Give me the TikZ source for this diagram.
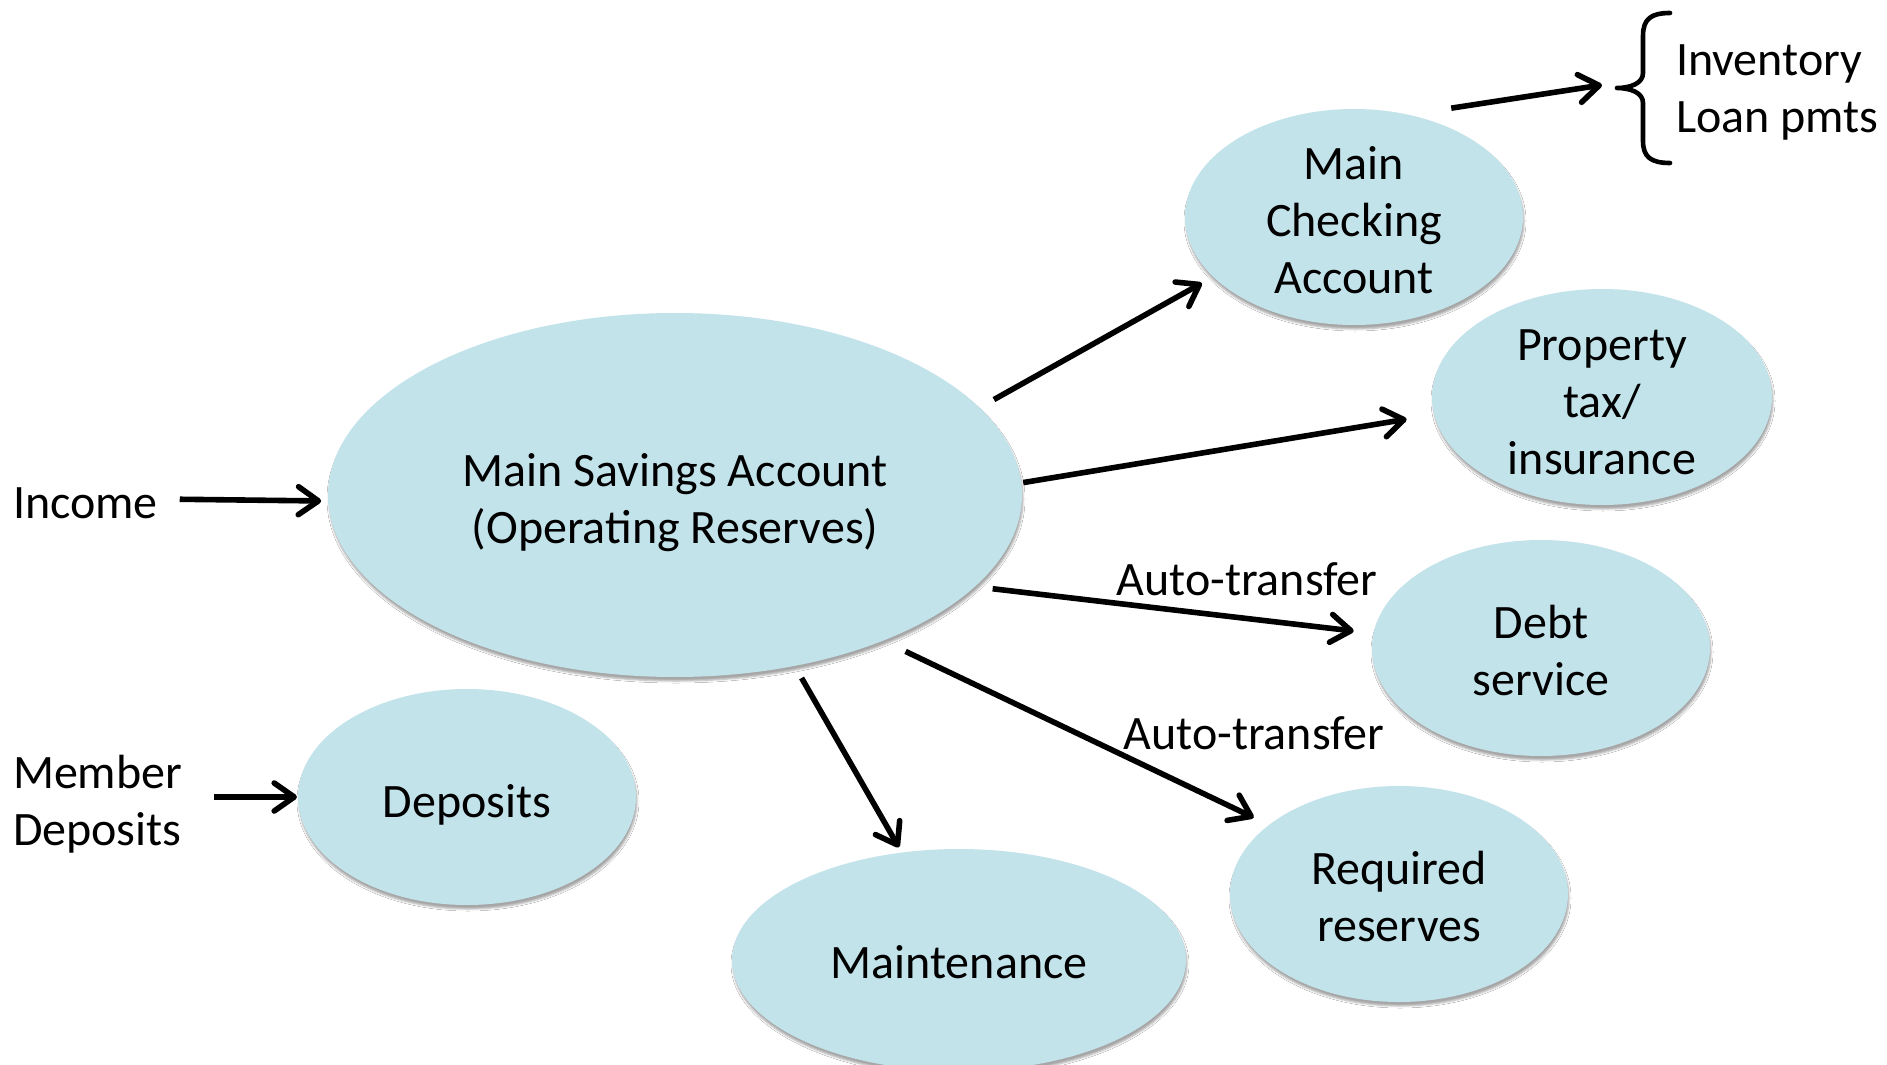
\documentclass[tikz,border=0pt]{standalone}
\usepackage{fontspec}
\setmainfont{Carlito}
\usetikzlibrary{shapes.geometric,arrows.meta,shadows.blur}

\definecolor{acctblue}{RGB}{195,227,235}

\tikzset{
  acct/.style={ellipse, fill=acctblue, draw=none, inner sep=0pt, outer sep=0pt,
    blur shadow={shadow xshift=0.5pt, shadow yshift=-2pt, shadow blur radius=1pt, shadow opacity=35}},
  txt/.style={inner sep=0pt, outer sep=0pt, align=center, font=\fontsize{24}{28.5}\selectfont},
  flow/.style={line width=2.8pt, -{Straight Barb[length=10pt,width=14pt,round]}},
  bracket/.style={line width=2.3pt, line cap=round, line join=round}
}

\begin{document}
\begin{tikzpicture}[x=0.5pt, y=-0.5pt]
  % canvas
  \fill[white] (0,0) rectangle (1887,1065);
  \useasboundingbox (0,0) rectangle (1887,1065);

  % account ellipses
  \node[acct, minimum width=347pt, minimum height=182pt] (main)  at (675,495) {};
  \node[acct, minimum width=169pt, minimum height=108pt] (chk)   at (1354,217) {};
  \node[acct, minimum width=170pt, minimum height=108pt] (prop)  at (1602,397) {};
  \node[acct, minimum width=169pt, minimum height=108pt] (debt)  at (1541,648) {};
  \node[acct, minimum width=169pt, minimum height=108pt] (req)   at (1399,894) {};
  \node[acct, minimum width=227pt, minimum height=111pt] (maint) at (959,960) {};
  \node[acct, minimum width=169pt, minimum height=108pt] (dep)   at (467,797) {};

  % ellipse captions
  \node[txt] (mainT)  at (675,503)  {Main Savings Account\\(Operating Reserves)};
  \node[txt] (chkT)   at (1354,220) {Main\\Checking\\Account};
  \node[txt] (propT)  at (1602,402) {Property\\tax/\\insurance};
  \node[txt] (debtT)  at (1541,651) {Debt\\service};
  \node[txt] (reqT)   at (1399,897) {Required\\reserves};
  \node[txt] (maintT) at (959,962)  {Maintenance};
  \node[txt] (depT)   at (467,805)  {Deposits};

  % free-standing texts
  \node[txt, anchor=west] (income) at (13,503) {Income};
  \node[txt, anchor=west, align=left] (member) at (13,804) {Member\\Deposits};
  \node[txt, anchor=west, align=left] (uses) at (1676,92) {Inventory\\Loan pmts};
  \node[txt] (auto1) at (1247,579) {Auto-transfer};
  \node[txt] (auto2) at (1254,733) {Auto-transfer};

  % brace grouping the checking-account uses
  \draw[bracket] (1670,13) .. controls (1651,13) and (1643,19) .. (1643,36)
    -- (1643,73) .. controls (1643,83) and (1631,88) .. (1617,88)
    .. controls (1631,88) and (1643,93) .. (1643,103)
    -- (1643,141) .. controls (1643,157) and (1651,163) .. (1670,163);
  \coordinate (brtip) at (1602,85);

  % money flows
  \draw[flow, shorten <=11pt, shorten >=3.5pt] ([yshift=2pt]income.east) -- (main.181);
  \draw[flow, shorten <=16pt, shorten >=0.5pt] (member.east |- dep.west) -- (dep.west);
  \draw[flow, shorten <=8.3pt, shorten >=6.5pt] (main.16.4) -- (chk.203);
  \draw[flow, shorten <=1pt, shorten >=14pt] (main.2.3) -- (prop.186.7);
  \draw[flow, shorten <=9pt, shorten >=10pt] (main.-17) -- (debt.175.1);
  \draw[flow, shorten <=12.5pt, shorten >=8.5pt] (main.-35.5) -- (req.152);
  \draw[flow, shorten <=7pt, shorten >=3pt] (main.-55.9) -- (maint.118);
  \draw[flow, shorten <=21.7pt] (chk.62.7) -- (brtip);
\end{tikzpicture}
\end{document}
